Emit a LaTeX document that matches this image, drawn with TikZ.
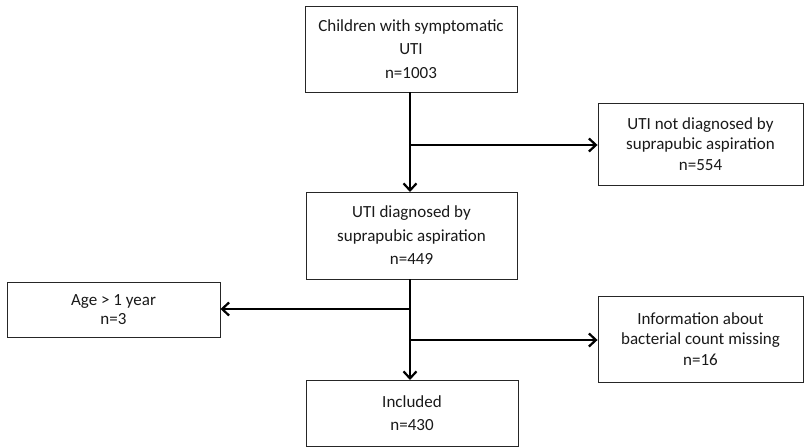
\documentclass[tikz,border=0pt]{standalone}
\usepackage{fontspec}
\setmainfont{Carlito}
\usetikzlibrary{arrows.meta}
\begin{document}
\begin{tikzpicture}[x=1pt,y=-1pt,
  boxnode/.style={draw=black!85, line width=0.9pt, rectangle, inner sep=0pt, align=center, text=black!90},
  wide/.style={font=\fontsize{17}{23.5}\selectfont},
  tight/.style={font=\fontsize{17}{20.5}\selectfont},
  flow/.style={line width=2.6pt, -{Straight Barb[length=7pt,width=13pt,line width=2.2pt]}}]
\useasboundingbox (0,0) rectangle (804,447);
\node[boxnode, wide, minimum width=212pt, minimum height=86pt] (top) at (411,49) {Children with symptomatic\\UTI\\n=1003};
\node[boxnode, tight, minimum width=205pt, minimum height=82pt] (r1) at (700.5,144) {UTI not diagnosed by\\suprapubic aspiration\\n=554};
\node[boxnode, wide, minimum width=211pt, minimum height=87pt] (mid) at (411.5,235.5) {UTI diagnosed by\\suprapubic aspiration\\n=449};
\node[boxnode, font=\fontsize{17}{19}\selectfont, minimum width=213pt, minimum height=55pt] (left) at (113.5,309.5) {Age > 1 year\\n=3};
\node[boxnode, tight, minimum width=205pt, minimum height=86pt] (r2) at (700.5,339) {Information about\\bacterial count missing\\n=16};
\node[boxnode, font=\fontsize{17}{23}\selectfont, minimum width=212pt, minimum height=66pt] (bot) at (412,413) {Included\\n=430};
\coordinate (b1) at (410,145);
\coordinate (b2) at (410,309);
\coordinate (b3) at (410,340);
\draw[flow] (410,92) -- (410,192);
\draw[flow] (b1) -- (r1.west |- b1);
\draw[flow] (410,279) -- (410,380);
\draw[flow] (b2) -- (left.east |- b2);
\draw[flow] (b3) -- (r2.west |- b3);
\end{tikzpicture}
\end{document}
